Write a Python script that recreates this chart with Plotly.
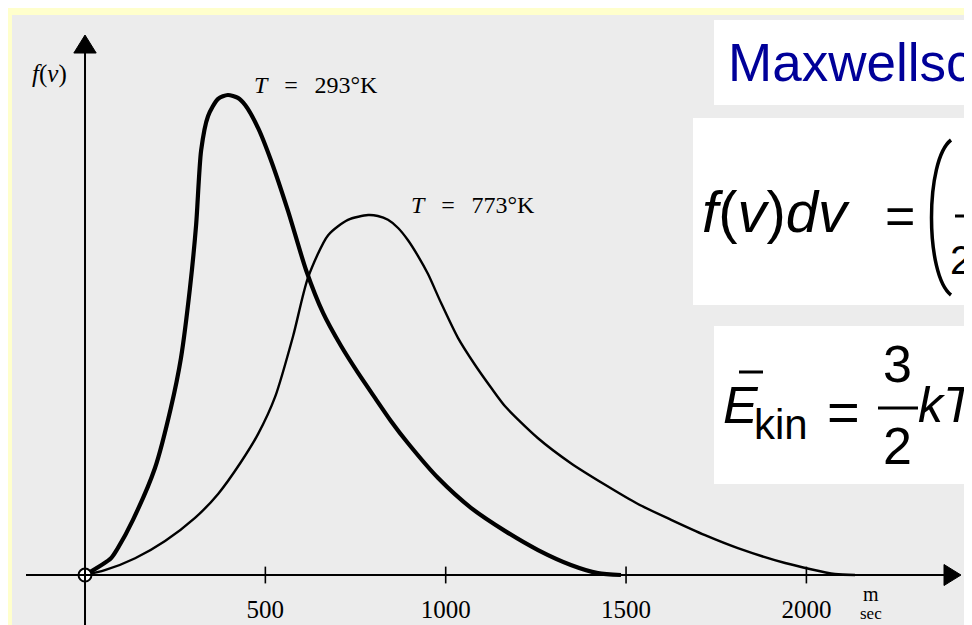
import plotly.graph_objects as go

W, H = 972, 625

# Maxwell speed distribution (v in m/s, f relative)
v_293 = [0, 72, 91, 133, 194, 238, 266, 291, 308, 322, 341, 369, 396, 424, 444, 480,
         516, 563, 613, 660, 710, 757, 804, 848, 895, 979, 1070, 1164, 1256, 1347, 1422, 1486]
f_293 = [0, 0.035, 0.056, 0.115, 0.223, 0.348, 0.452, 0.598, 0.729, 0.885, 0.956, 0.992,
         1.0, 0.994, 0.979, 0.931, 0.863, 0.758, 0.635, 0.546, 0.477, 0.421, 0.369, 0.321,
         0.275, 0.202, 0.140, 0.092, 0.052, 0.021, 0.004, 0]

v_773 = [0, 55, 139, 222, 305, 369, 432, 480, 527, 577, 618, 674, 729, 785, 812, 840,
         868, 895, 923, 951, 987, 1034, 1081, 1126, 1164, 1256, 1347, 1442, 1533, 1625,
         1719, 1810, 1941, 2079, 2135]
f_773 = [0, 0.010, 0.035, 0.071, 0.119, 0.169, 0.235, 0.294, 0.371, 0.498, 0.619, 0.708,
         0.740, 0.750, 0.748, 0.740, 0.723, 0.698, 0.665, 0.627, 0.567, 0.494, 0.438, 0.390,
         0.352, 0.285, 0.233, 0.188, 0.148, 0.115, 0.083, 0.056, 0.025, 0.002, 0]

tick_vals = [500, 1000, 1500, 2000]
tick_text = ["500", "1000", "1500", "2000"]

x_range = [-213.5, 2481.3]
y_range = [-0.1208, 1.1813]

SERIF = "Liberation Serif"
SANS = "Liberation Sans"
PAGE = "#ececec"
YELLOW = "#ffffcc"
BLUE = "#000099"


def px(x):
    return x / W


def py(y):
    return 1 - y / H


fig = go.Figure()

fig.add_trace(go.Scatter(x=v_293, y=f_293, mode="lines",
                         line=dict(color="black", width=4.2, shape="spline", smoothing=0.7)))
fig.add_trace(go.Scatter(x=v_773, y=f_773, mode="lines",
                         line=dict(color="black", width=2.4, shape="spline", smoothing=0.7)))

# tick marks and labels on the speed axis
fig.add_trace(go.Scatter(x=tick_vals, y=[0] * len(tick_vals), mode="markers",
                         marker=dict(symbol="line-ns", size=12,
                                     line=dict(color="black", width=1.6))))
fig.add_trace(go.Scatter(x=tick_vals, y=[-0.076] * len(tick_vals), mode="text",
                         text=tick_text, cliponaxis=False,
                         textfont=dict(family=SERIF, size=25, color="black")))

# origin circle
fig.add_trace(go.Scatter(x=[0], y=[0], mode="markers",
                         marker=dict(symbol="circle", size=13, color="white",
                                     line=dict(color="black", width=2))))

shapes = [
    # scanned page on the yellow slide
    dict(type="rect", xref="paper", yref="paper", x0=px(4), x1=1.01, y0=-0.01, y1=py(7),
         fillcolor=PAGE, line_width=0, layer="below"),
    # white text boxes
    dict(type="rect", xref="paper", yref="paper", x0=px(706), x1=1.01, y0=py(97), y1=py(12),
         fillcolor="white", line_width=0, layer="below"),
    dict(type="rect", xref="paper", yref="paper", x0=px(685), x1=1.01, y0=py(297), y1=py(110),
         fillcolor="white", line_width=0, layer="below"),
    dict(type="rect", xref="paper", yref="paper", x0=px(706), x1=1.01, y0=py(476), y1=py(318),
         fillcolor="white", line_width=0, layer="below"),
    # axes with arrow heads
    dict(type="line", x0=-163.6, x1=2385, y0=0, y1=0, line=dict(color="black", width=2)),
    dict(type="path", path="M 2381.5,0.0219 L 2428.6,0 L 2381.5,-0.0219 Z",
         fillcolor="black", line=dict(color="black", width=1)),
    dict(type="line", x0=0, x1=0, y0=y_range[0], y1=1.09, line=dict(color="black", width=2)),
    dict(type="path", path="M -31,1.0875 L 0,1.125 L 31,1.0875 Z",
         fillcolor="black", line=dict(color="black", width=1)),
    # formula decorations
    dict(type="path", xref="paper", yref="paper",
         path=f"M {px(943)},{py(132)} C {px(917)},{py(152)} {px(917)},{py(267)} {px(943)},{py(287)}",
         line=dict(color="black", width=3.5)),
    dict(type="line", xref="paper", yref="paper", x0=px(947), x1=1.01, y0=py(208), y1=py(208),
         line=dict(color="black", width=3)),
    dict(type="line", xref="paper", yref="paper", x0=px(731), x1=px(755), y0=py(364), y1=py(364),
         line=dict(color="black", width=3)),
    dict(type="line", xref="paper", yref="paper", x0=px(870), x1=px(910), y0=py(400), y1=py(400),
         line=dict(color="black", width=3)),
]


def note(text, x, y, size, family=SERIF, color="black", anchor="center"):
    return dict(text=text, xref="paper", yref="paper", x=px(x), y=py(y),
                xanchor=anchor, yanchor="middle", showarrow=False,
                font=dict(family=family, size=size, color=color))


annotations = [
    note("<i>f</i>(<i>v</i>)", 41, 66, 25),
    note("<i>T</i>\u2002\u2009=\u2002\u2009293°K", 308, 77, 24),
    note("<i>T</i>\u2002\u2009=\u2002\u2009773°K", 465, 197, 24),
    note("m", 863, 586, 20),
    note("sec", 863, 605, 17),
    note("Maxwellsc", 718, 55, 53, SANS, BLUE, "left"),
    note("<i>f</i>(<i>v</i>)<i>dv</i>", 692, 203, 58, SANS, anchor="left"),
    note("=", 892, 208, 52, SANS),
    note("2", 940, 252, 40, SANS, anchor="left"),
    note("<i>E</i>", 713, 397, 52, SANS, anchor="left"),
    note("kin", 744, 416, 42, SANS, anchor="left"),
    note("=", 835, 403, 56, SANS),
    note("3", 889, 356, 52, SANS),
    note("2", 889, 438, 52, SANS),
    note("<i>kT</i>", 908, 397, 50, SANS, anchor="left"),
]

fig.update_layout(
    width=W, height=H,
    margin=dict(l=0, r=0, t=0, b=0),
    paper_bgcolor=YELLOW,
    plot_bgcolor="rgba(0,0,0,0)",
    showlegend=False,
    shapes=shapes,
    annotations=annotations,
    xaxis=dict(range=x_range, visible=False, fixedrange=True),
    yaxis=dict(range=y_range, visible=False, fixedrange=True),
)

fig.write_html("out.html")
